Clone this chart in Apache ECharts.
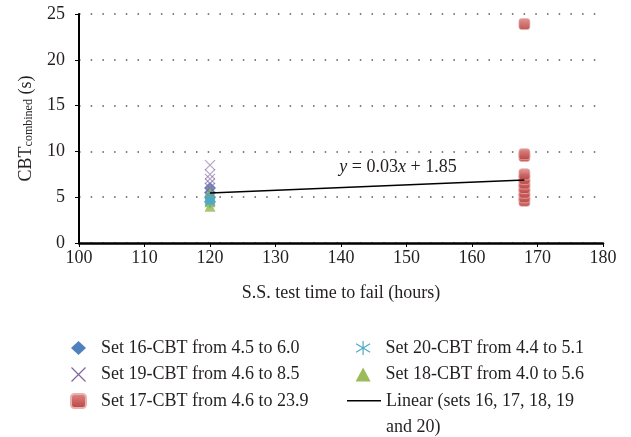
<!DOCTYPE html>
<html>
<head>
<meta charset="utf-8">
<script src="https://cdn.jsdelivr.net/npm/echarts@6/dist/echarts.min.js"></script>
<style>
  html, body { margin: 0; padding: 0; background: #fff; }
  #chart { width: 631px; height: 437px; }
</style>
</head>
<body>
<div id="chart"></div>
<script>
// Test time to fail (hours) for each set
const set16Time = 120, set17Time = 168, set18Time = 120, set19Time = 120, set20Time = 120;

// CBT combined values (s) per set
const set16Values = [4.5, 5.0, 5.5, 6.0];
const set17Values = [4.6, 5.0, 5.5, 6.0, 6.5, 7.0, 7.5, 9.5, 9.7, 23.9];
const set18Values = [4.0, 4.5, 5.0, 5.6];
const set19Values = [4.6, 5.0, 5.5, 6.0, 6.5, 7.0, 7.5, 8.5];
const set20Values = [4.4, 4.6, 4.8, 5.1];

// Linear fit over all sets: y = 0.03x + 1.85
const trendSlope = 0.03;
const trendIntercept = 1.85;
const trendRange = [120, 168];

const xTicks = [100, 110, 120, 130, 140, 150, 160, 170, 180];
const yTicks = [0, 5, 10, 15, 20, 25];

const pairs = (t, vals) => vals.map(v => [t, v]);
const trendData = trendRange.map(x => [x, +(trendSlope * x + trendIntercept).toFixed(4)]);

const FONT = '"Liberation Serif", "DejaVu Serif", serif';
const INK = '#231f20';

const xMarkPath = 'path://M0,0L10,10M10,0L0,10';
const starPath = 'path://M5,0L5,10M0,2L10,8M0,8L10,2';
// Legend stroke for the fit line, drawn level with the first line of its two-line label
const trendIconPath = 'path://M0,0M0,40M0,6h34v1.6h-34z';

const chart = echarts.init(document.getElementById('chart'), null, { renderer: 'canvas' });

const legendText = { fontFamily: FONT, fontSize: 18, color: INK, lineHeight: 26 };

chart.setOption({
  animation: false,
  backgroundColor: '#fff',
  textStyle: { fontFamily: FONT, color: INK },
  grid: { left: 79, right: 28, top: 14, bottom: 194, containLabel: false },
  xAxis: {
    type: 'value',
    min: xTicks[0], max: xTicks[xTicks.length - 1], interval: 10,
    name: 'S.S. test time to fail (hours)',
    nameLocation: 'middle', nameGap: 41,
    nameTextStyle: { fontFamily: FONT, fontSize: 18, color: INK },
    axisLine: { show: true, onZero: false, lineStyle: { color: '#000', width: 2.5 } },
    axisTick: { show: true, inside: false, length: 4, lineStyle: { color: '#000', width: 1 } },
    axisLabel: { fontFamily: FONT, fontSize: 18, color: INK, margin: 6 },
    splitLine: { show: false }
  },
  yAxis: {
    type: 'value',
    min: yTicks[0], max: yTicks[yTicks.length - 1], interval: 5,
    name: 'CBT{sub|combined} (s)',
    nameLocation: 'middle', nameGap: 44, nameRotate: 90,
    nameTextStyle: {
      fontFamily: FONT, fontSize: 18, color: INK,
      rich: { sub: { fontFamily: FONT, fontSize: 12, color: INK, verticalAlign: 'bottom', padding: [6, 0, 0, 0] } }
    },
    axisLine: { show: true, lineStyle: { color: '#000', width: 2 } },
    axisTick: { show: true, inside: false, length: 4, lineStyle: { color: '#000', width: 1 } },
    axisLabel: { fontFamily: FONT, fontSize: 18, color: INK, margin: 14 },
    splitLine: { show: true, lineStyle: { color: '#555', width: 1.5, type: [1.5, 10.2] } }
  },
  legend: [
    {
      orient: 'vertical', left: 70, top: 335, padding: 0, itemGap: 0.5,
      itemWidth: 15, itemHeight: 14,
      textStyle: Object.assign({ padding: [0, 0, 0, 10] }, legendText),
      data: [
        { name: 'Set 16-CBT from 4.5 to 6.0', itemStyle: { opacity: 1 } },
        { name: 'Set 19-CBT from 4.6 to 8.5', itemStyle: { borderWidth: 1.2, opacity: 1 } },
        { name: 'Set 17-CBT from 4.6 to 23.9', itemStyle: { opacity: 1 } }
      ]
    },
    {
      orient: 'vertical', left: 355.5, top: 335, padding: 0, itemGap: 0.5,
      itemWidth: 15, itemHeight: 14,
      textStyle: Object.assign({ padding: [0, 0, 0, 10] }, legendText),
      data: [
        { name: 'Set 20-CBT from 4.4 to 5.1', itemStyle: { borderWidth: 1.2, opacity: 1 } },
        { name: 'Set 18-CBT from 4.0 to 5.6', itemStyle: { opacity: 1 } }
      ]
    },
    {
      orient: 'vertical', left: 347, top: 388, padding: 0,
      itemWidth: 34, itemHeight: 40,
      textStyle: legendText,
      formatter: () => 'Linear (sets 16, 17, 18, 19\nand 20)',
      data: [{ name: 'Linear (sets 16, 17, 18, 19 and 20)', icon: trendIconPath,
               itemStyle: { color: '#000', borderWidth: 0 } }]
    }
  ],
  series: [
    {
      name: 'Set 16-CBT from 4.5 to 6.0', type: 'scatter',
      symbol: 'diamond', symbolSize: 12,
      itemStyle: { color: '#4f81bd', opacity: 0.8 },
      data: pairs(set16Time, set16Values), z: 3
    },
    {
      name: 'Set 17-CBT from 4.6 to 23.9', type: 'scatter',
      symbol: 'roundRect', symbolSize: 11,
      itemStyle: {
        color: new echarts.graphic.LinearGradient(0, 0, 0, 1, [
          { offset: 0, color: '#dd8a88' }, { offset: 1, color: '#b8423f' }
        ]),
        borderColor: '#e9b0ae', borderWidth: 0.8, opacity: 0.9
      },
      data: pairs(set17Time, set17Values), z: 3
    },
    {
      name: 'Set 18-CBT from 4.0 to 5.6', type: 'scatter',
      symbol: 'triangle', symbolSize: 11,
      itemStyle: { color: '#9bbb59', opacity: 0.85 },
      data: pairs(set18Time, set18Values), z: 3
    },
    {
      name: 'Set 19-CBT from 4.6 to 8.5', type: 'scatter',
      symbol: xMarkPath, symbolSize: 10,
      itemStyle: { color: 'rgba(0,0,0,0)', borderColor: '#8064a2', borderWidth: 1.2, opacity: 0.6 },
      data: pairs(set19Time, set19Values), z: 3
    },
    {
      name: 'Set 20-CBT from 4.4 to 5.1', type: 'scatter',
      symbol: starPath, symbolSize: 10,
      itemStyle: { color: 'rgba(0,0,0,0)', borderColor: '#4bacc6', borderWidth: 1.4, opacity: 0.85 },
      data: pairs(set20Time, set20Values), z: 3
    },
    {
      name: 'Linear (sets 16, 17, 18, 19 and 20)', type: 'line',
      symbol: 'none', showSymbol: false,
      lineStyle: { color: '#000', width: 1.5 },
      itemStyle: { color: '#000' },
      data: trendData, z: 4,
      markPoint: {
        symbol: 'circle', symbolSize: 0, silent: true,
        label: {
          show: true, position: 'inside',
          formatter: '{i|y} = 0.03{i|x} + 1.85',
          fontFamily: FONT, fontSize: 18, color: INK,
          rich: { i: { fontFamily: FONT, fontSize: 18, fontStyle: 'italic', color: INK } }
        },
        data: [{ coord: [148.7, 8.3] }]
      }
    }
  ]
});
</script>
</body>
</html>
